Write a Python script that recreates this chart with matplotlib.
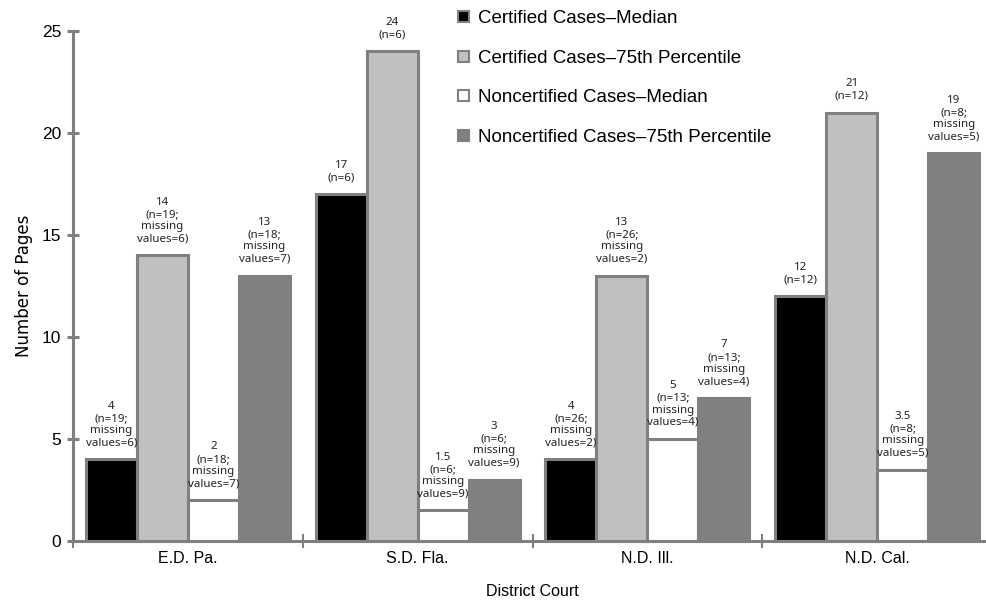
import numpy as np
import matplotlib.pyplot as plt
from matplotlib.patches import Patch

# Data
courts = ["E.D. Pa.", "S.D. Fla.", "N.D. Ill.", "N.D. Cal."]
series = ["Certified Cases\u2013Median", "Certified Cases\u201375th Percentile",
          "Noncertified Cases\u2013Median", "Noncertified Cases\u201375th Percentile"]
cert_median = [4, 17, 4, 12]
cert_p75 = [14, 24, 13, 21]
noncert_median = [2, 1.5, 5, 3.5]
noncert_p75 = [13, 3, 7, 19]
cert_n = ["(n=19;\nmissing\nvalues=6)", "(n=6)", "(n=26;\nmissing\nvalues=2)", "(n=12)"]
noncert_n = ["(n=18;\nmissing\nvalues=7)", "(n=6;\nmissing\nvalues=9)",
             "(n=13;\nmissing\nvalues=4)", "(n=8;\nmissing\nvalues=5)"]

values = [cert_median, cert_p75, noncert_median, noncert_p75]
notes = [cert_n, cert_n, noncert_n, noncert_n]

GRAY = "#808080"
faces = ["#000000", "#c0c0c0", "#ffffff", GRAY]

plt.rcParams['font.family'] = ['Liberation Sans', 'DejaVu Sans']

fig = plt.figure(figsize=(9.87, 6.01), dpi=100)
ax = fig.add_axes([73 / 987, 60 / 601, 919 / 987, 510 / 601])

w = 0.222
centers = np.arange(len(courts)) + 0.5
for i, (vals, face, nts) in enumerate(zip(values, faces, notes)):
    x = centers + (i - 1.5) * w
    ax.bar(x, vals, width=w, color=face, edgecolor=GRAY, linewidth=2.2,
           zorder=2, clip_on=False)
    for xi, v, nt in zip(x, vals, nts):
        lbl = f"{v:g}\n{nt}"
        ax.annotate(lbl, (xi, v), xytext=(0, 8), textcoords="offset points",
                    ha="center", va="bottom", fontsize=8.3, color="#222222",
                    family=["Noto Sans", "DejaVu Sans"], linespacing=1.15)

ax.set_xlim(0, 4)
ax.set_ylim(0, 25)

for s in ["top", "right"]:
    ax.spines[s].set_visible(False)
for s in ["left", "bottom"]:
    ax.spines[s].set_color(GRAY)
    ax.spines[s].set_linewidth(2.2)
    ax.spines[s].set_zorder(3)

ax.set_yticks([0, 5, 10, 15, 20, 25])
ax.tick_params(axis="y", direction="inout", length=9, width=2.2, color=GRAY,
               labelsize=12.5, pad=4)
ax.set_xticks([0, 1, 2, 3, 4])
ax.set_xticklabels([])
ax.tick_params(axis="x", which="major", direction="inout", length=10,
               width=1.5, color=GRAY)
ax.set_xticks(centers, minor=True)
ax.set_xticklabels(courts, minor=True)
ax.tick_params(axis="x", which="minor", length=0, labelsize=11.5, pad=7)

ax.set_ylabel("Number of Pages", fontsize=12, labelpad=6,
              family=["Liberation Sans Narrow", "DejaVu Sans"])
ax.set_xlabel("District Court", fontsize=11.5, labelpad=13)

handles = [Patch(facecolor=f, edgecolor=GRAY, linewidth=1.5) for f in faces]
fig.legend(handles, series, loc="upper left", bbox_to_anchor=(448 / 987, 1.0),
           frameon=False, fontsize=13.5, handlelength=0.55, handleheight=0.55,
           handletextpad=0.5, labelspacing=1.2, borderpad=0.05)

fig.savefig("out.png", dpi=100)
